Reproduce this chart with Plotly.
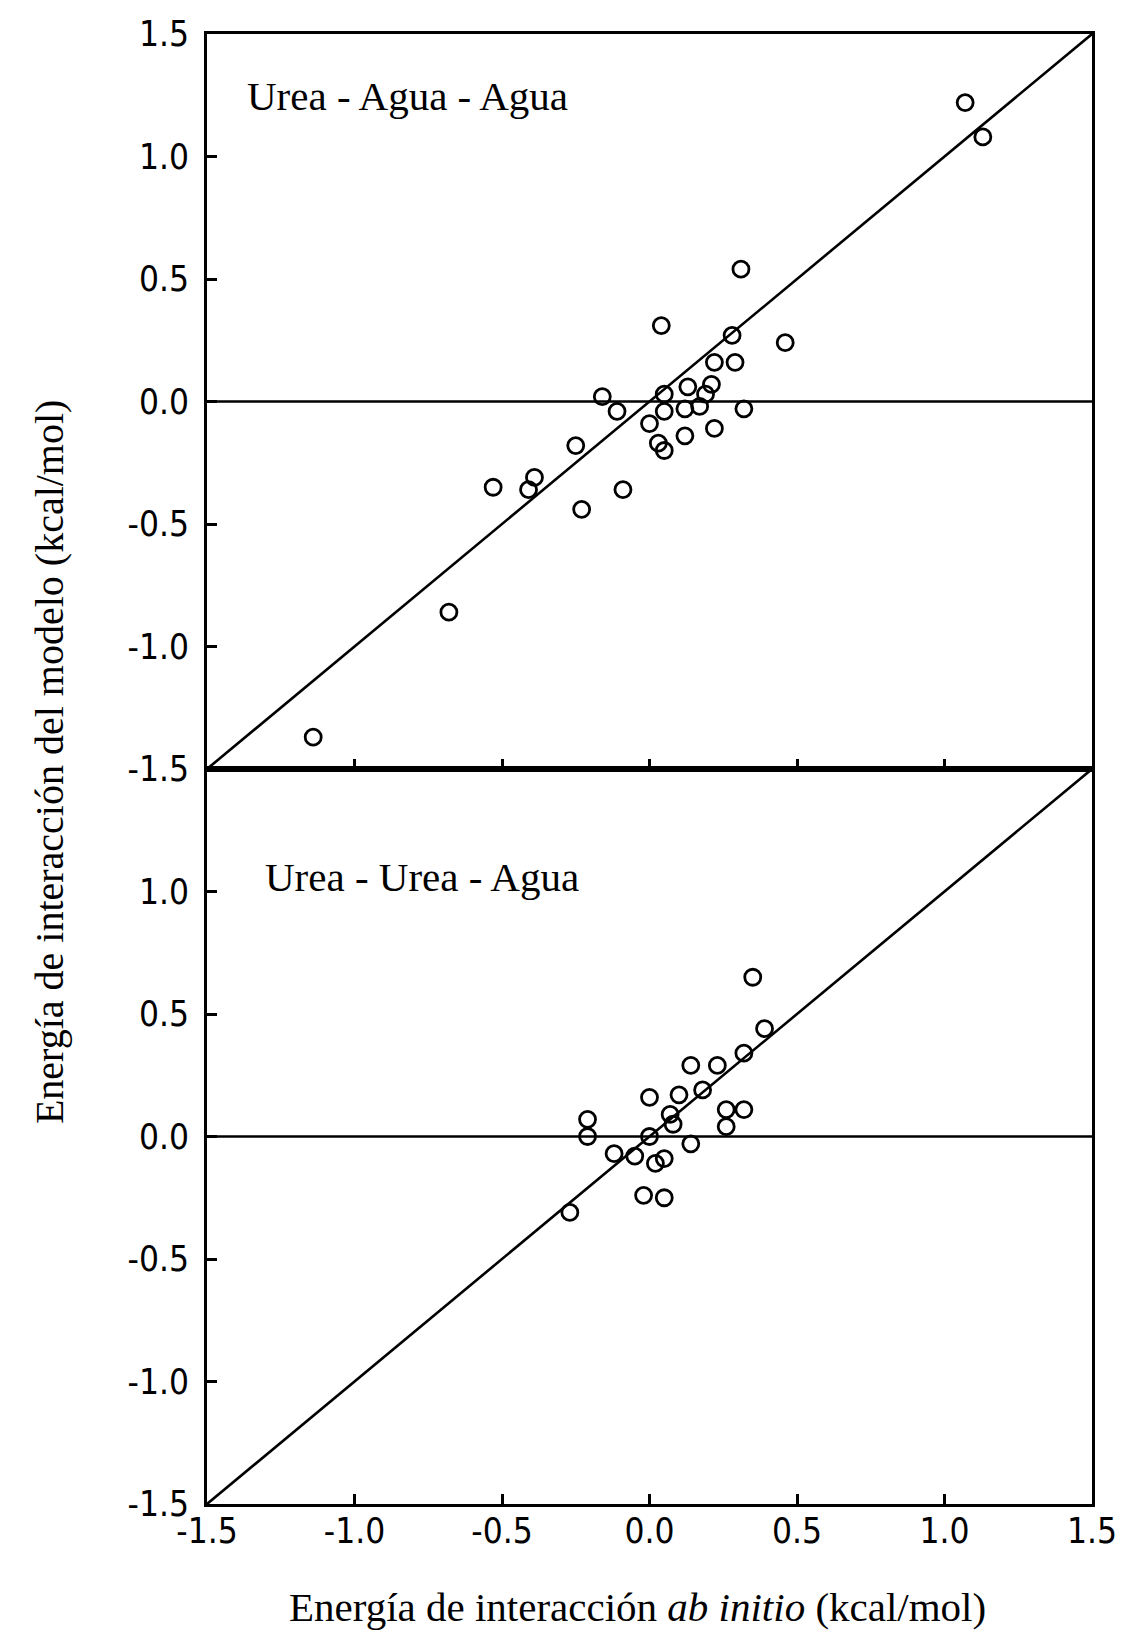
import plotly.graph_objects as go
from plotly.subplots import make_subplots

# Axis limits and ticks (kcal/mol)
AXIS_MIN, AXIS_MAX = -1.5, 1.5
tick_vals = [-1.5, -1.0, -0.5, 0.0, 0.5, 1.0, 1.5]
tick_text = ["-1.5", "-1.0", "-0.5", "0.0", "0.5", "1.0", "1.5"]

# Urea - Agua - Agua: ab initio vs model interaction energies
uaa_abinitio = [1.07, 1.13, 0.31, 0.04, 0.28, 0.46, 0.22, 0.29, -0.16, -0.11,
                0.05, 0.13, 0.21, 0.19, 0.05, 0.12, 0.17, 0.32, 0.00, 0.22,
                0.12, 0.03, 0.05, -0.25, -0.09, -0.53, -0.39, -0.41, -0.23,
                -0.68, -1.14]
uaa_modelo = [1.22, 1.08, 0.54, 0.31, 0.27, 0.24, 0.16, 0.16, 0.02, -0.04,
              0.03, 0.06, 0.07, 0.03, -0.04, -0.03, -0.02, -0.03, -0.09, -0.11,
              -0.14, -0.17, -0.20, -0.18, -0.36, -0.35, -0.31, -0.36, -0.44,
              -0.86, -1.37]

# Urea - Urea - Agua
uua_abinitio = [0.35, 0.39, 0.32, 0.14, 0.23, 0.18, 0.10, 0.00, 0.32, 0.26,
                0.07, 0.08, 0.26, -0.21, -0.21, 0.00, 0.14, -0.12, -0.05, 0.02,
                0.05, -0.02, 0.05, -0.27]
uua_modelo = [0.65, 0.44, 0.34, 0.29, 0.29, 0.19, 0.17, 0.16, 0.11, 0.11,
              0.09, 0.05, 0.04, 0.07, 0.00, 0.00, -0.03, -0.07, -0.08, -0.11,
              -0.09, -0.24, -0.25, -0.31]

panels = [
    ("Urea - Agua - Agua", uaa_abinitio, uaa_modelo),
    ("Urea - Urea - Agua", uua_abinitio, uua_modelo),
]

SERIF = "Liberation Serif, Times New Roman, serif"
NARROW = "Liberation Sans Narrow, DejaVu Sans Condensed, Liberation Sans, sans-serif"

fig = make_subplots(rows=2, cols=1, shared_xaxes=True, vertical_spacing=0)

for row, (name, xs, ys) in enumerate(panels, start=1):
    # identity line y = x
    fig.add_trace(go.Scatter(x=[AXIS_MIN, AXIS_MAX], y=[AXIS_MIN, AXIS_MAX],
                             mode="lines", line=dict(color="black", width=2.6),
                             hoverinfo="skip", showlegend=False), row=row, col=1)
    # zero reference line
    fig.add_trace(go.Scatter(x=[AXIS_MIN, AXIS_MAX], y=[0, 0],
                             mode="lines", line=dict(color="black", width=2.6),
                             hoverinfo="skip", showlegend=False), row=row, col=1)
    fig.add_trace(go.Scatter(x=xs, y=ys, mode="markers", name=name,
                             marker=dict(symbol="circle-open", size=16, color="black",
                                         line=dict(color="black", width=2.8)),
                             showlegend=False), row=row, col=1)

common_x = dict(range=[AXIS_MIN, AXIS_MAX], showgrid=False, zeroline=False,
                showline=True, mirror=True, linecolor="black", linewidth=3,
                ticks="inside", tickvals=tick_vals, ticklen=10, tickwidth=2.5,
                tickcolor="black")
fig.update_xaxes(**common_x, showticklabels=False, row=1, col=1)
fig.update_xaxes(**common_x, showticklabels=True, ticktext=tick_text,
                 tickfont=dict(family=NARROW, size=35, color="black"),
                 ticklabelstandoff=-6, row=2, col=1)

common_y = dict(range=[AXIS_MIN, AXIS_MAX], showgrid=False, zeroline=False,
                showline=True, mirror=True, linecolor="black", linewidth=3,
                ticks="inside", ticklen=10, tickwidth=2.5, tickcolor="black",
                tickfont=dict(family=NARROW, size=35, color="black"),
                ticklabelstandoff=8)
fig.update_yaxes(**common_y, tickvals=tick_vals, ticktext=tick_text, row=1, col=1)
fig.update_yaxes(**common_y, tickvals=tick_vals[:-1], ticktext=tick_text[:-1],
                 row=2, col=1)

# panel captions
fig.add_annotation(x=-1.37, y=1.245, xref="x", yref="y", text=panels[0][0],
                   showarrow=False, xanchor="left", yanchor="middle",
                   font=dict(family=SERIF, size=41, color="black"))
fig.add_annotation(x=-1.31, y=1.06, xref="x2", yref="y2", text=panels[1][0],
                   showarrow=False, xanchor="left", yanchor="middle",
                   font=dict(family=SERIF, size=41, color="black"))

# shared axis titles
fig.add_annotation(x=-0.178, y=0.505, xref="paper", yref="paper",
                   text="Energía de interacción del modelo (kcal/mol)",
                   textangle=-90, showarrow=False, xanchor="center", yanchor="middle",
                   font=dict(family=SERIF, size=40, color="black"))
fig.add_annotation(x=0.486, y=-0.070, xref="paper", yref="paper",
                   text="Energía de interacción <i>ab initio</i> (kcal/mol)",
                   showarrow=False, xanchor="center", yanchor="middle",
                   font=dict(family=SERIF, size=41, color="black"))

fig.update_layout(width=1143, height=1637,
                  margin=dict(l=207, r=51, t=34, b=133),
                  paper_bgcolor="white", plot_bgcolor="white")

fig.write_html("out.html")
